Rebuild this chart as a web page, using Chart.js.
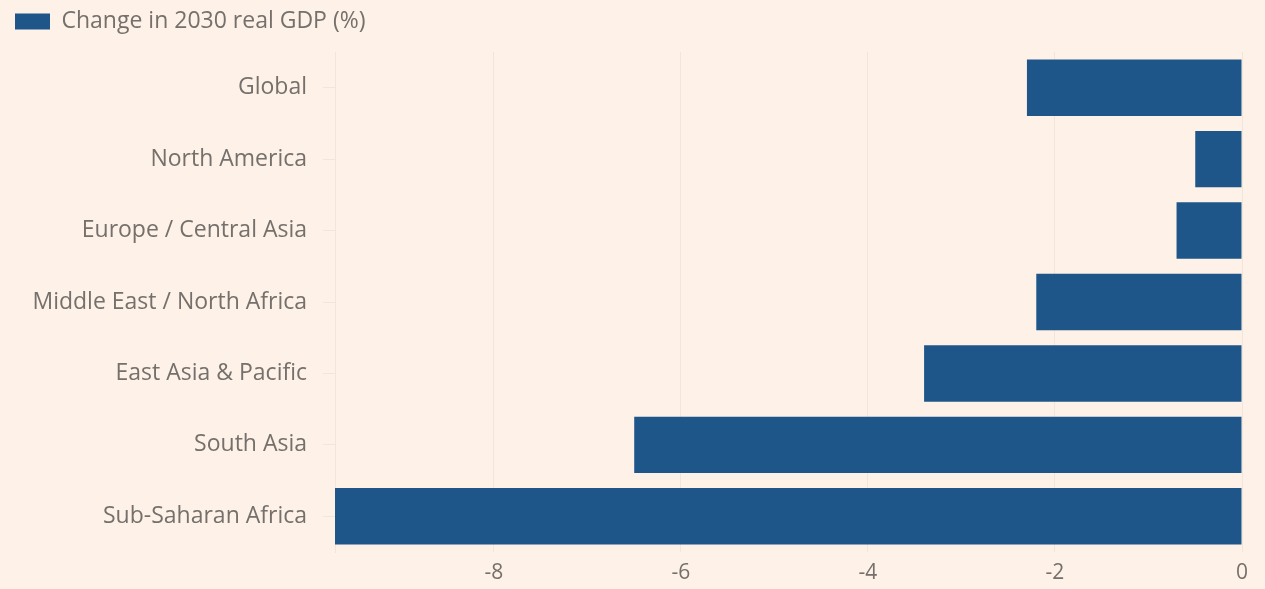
<!DOCTYPE html>
<html>
<head>
<meta charset="utf-8">
<script src="https://cdn.jsdelivr.net/npm/chart.js@4/dist/chart.umd.min.js"></script>
<style>
  html, body { margin: 0; padding: 0; background: #fdf1e8; }
  #wrap { width: 1265px; height: 589px; }
</style>
</head>
<body>
<div id="wrap"><canvas id="gdp-chart"></canvas></div>
<script>
const regions = ["Global", "North America", "Europe / Central Asia", "Middle East / North Africa",
    "East Asia & Pacific", "South Asia", "Sub-Saharan Africa"];
const gdpChange = [-2.3, -0.5, -0.7, -2.2, -3.4, -6.5, -9.7];
const xTicks = [-8, -6, -4, -2, 0];
const seriesName = "Change in 2030 real GDP (%)";

const textColor = "#75706b";
const gridColor = "rgba(120, 100, 80, 0.08)";

Chart.defaults.font.family = "'Open Sans', sans-serif";
Chart.defaults.color = textColor;

// fixed legend height so the plot starts where the original's does
const legendHeight = {
    id: 'legendHeight',
    beforeInit(chart) {
        const fit = chart.legend.fit;
        chart.legend.fit = function () {
            fit.bind(chart.legend)();
            this.height = 52;
        };
    }
};

const ctx = document.getElementById('gdp-chart');

const chart = new Chart(ctx, {
    type: 'bar',
    data: {
        labels: regions,
        datasets: [{
            label: seriesName,
            data: gdpChange,
            backgroundColor: "#1f5689",
            borderWidth: 0,
            categoryPercentage: 0.79,
            barPercentage: 1
        }]
    },
    options: {
        indexAxis: 'y',
        responsive: true,
        maintainAspectRatio: false,
        animation: false,
        layout: {
            padding: { left: 5, right: 23, top: 0, bottom: 0 }
        },
        scales: {
            x: {
                min: -9.7,
                max: 0,
                afterBuildTicks: (axis) => { axis.ticks = xTicks.map(v => ({ value: v })); },
                afterFit: (axis) => { axis.height = 37; },
                grid: { color: gridColor, drawTicks: false },
                border: { display: false },
                ticks: { font: { size: 21 }, padding: 8, color: textColor }
            },
            y: {
                afterFit: (axis) => { axis.width = 330; },
                grid: { drawOnChartArea: false, offset: false, color: gridColor, tickLength: 12 },
                border: { display: true, color: gridColor },
                ticks: { font: { size: 23 }, padding: 16, color: textColor }
            }
        },
        plugins: {
            legend: {
                display: true,
                position: 'top',
                align: 'start',
                labels: {
                    boxWidth: 35,
                    boxHeight: 16,
                    padding: 10,
                    font: { size: 23 },
                    color: textColor
                }
            },
            tooltip: { enabled: false }
        }
    },
    plugins: [legendHeight]
});
</script>
</body>
</html>
